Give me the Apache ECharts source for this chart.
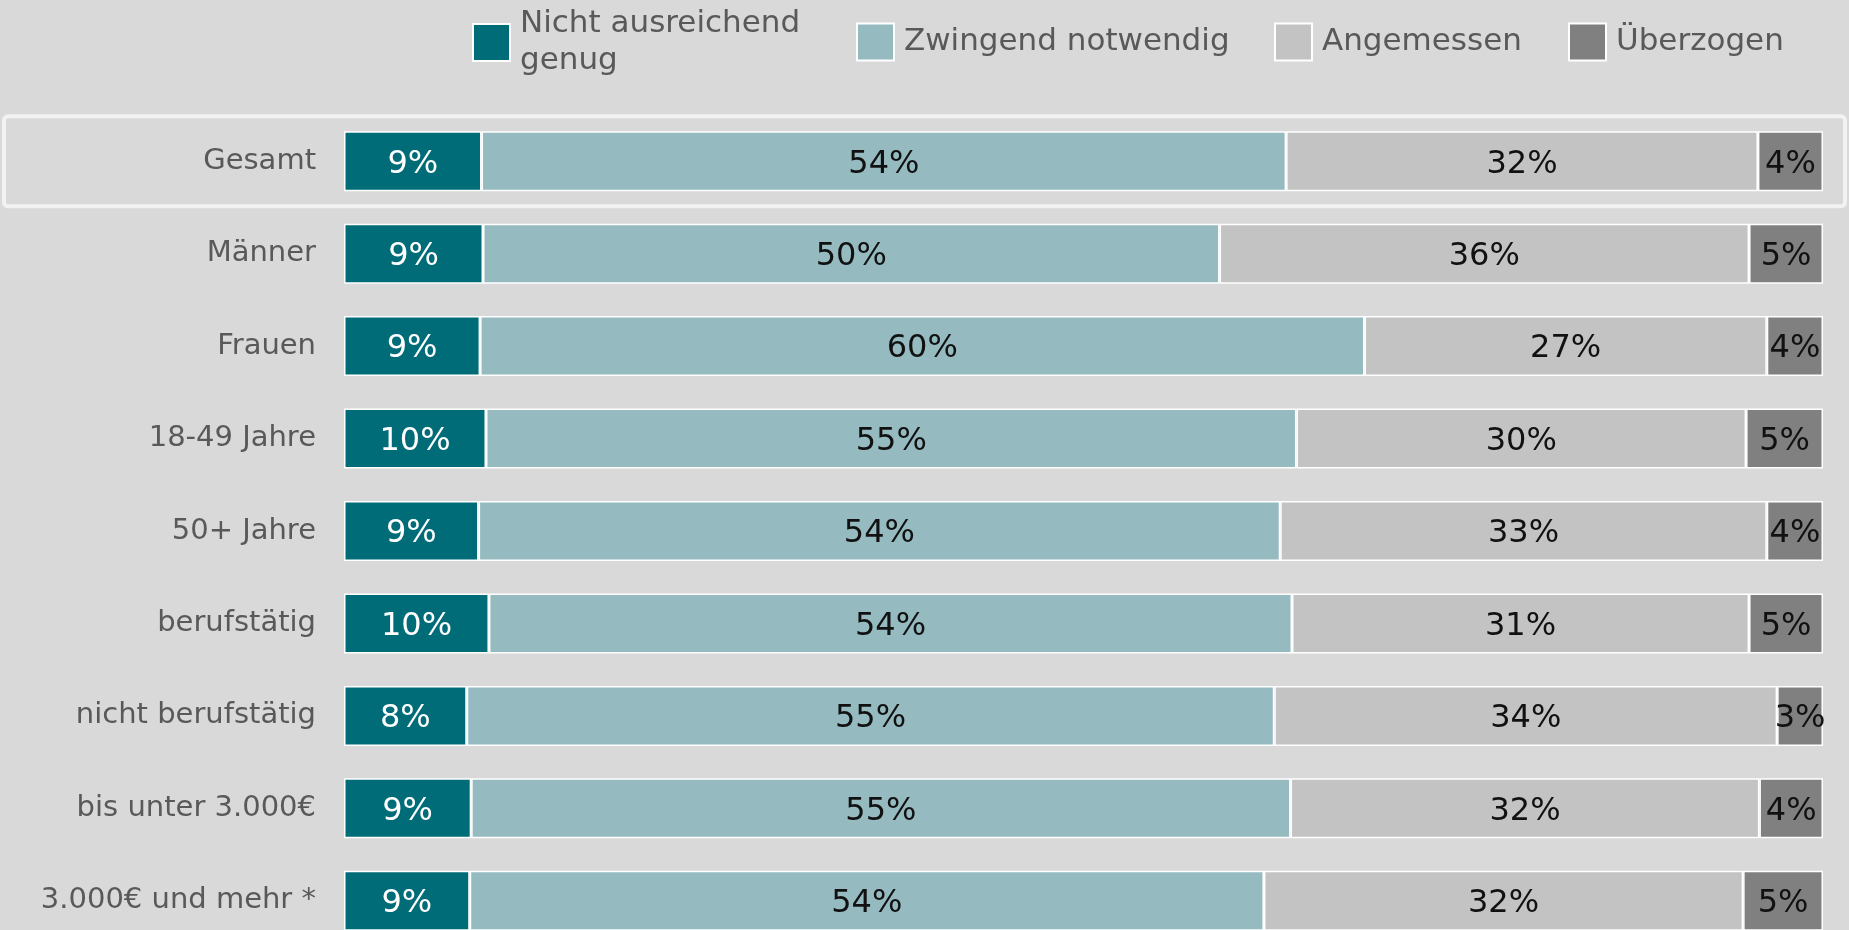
<!DOCTYPE html>
<html>
<head>
<meta charset="utf-8">
<script src="https://cdn.jsdelivr.net/npm/echarts@6/dist/echarts.min.js"></script>
<style>
  html, body { margin: 0; padding: 0; background: #d9d9d9; overflow: hidden; }
  #main { width: 1849px; height: 960px; }
</style>
</head>
<body>
<div id="main"></div>
<script>
var categories = ['Gesamt', 'Männer', 'Frauen', '18-49 Jahre', '50+ Jahre', 'berufstätig', 'nicht berufstätig', 'bis unter 3.000€', '3.000€ und mehr *'];
var seriesNames = ['Nicht ausreichend\ngenug', 'Zwingend notwendig', 'Angemessen', 'Überzogen'];
var nichtAusreichend = [9.3, 9.4, 9.2, 9.6, 9.1, 9.8, 8.3, 8.6, 8.5];
var zwingend = [54.4, 49.8, 59.8, 54.8, 54.2, 54.3, 54.6, 55.4, 53.7];
var angemessen = [31.9, 35.8, 27.2, 30.4, 32.9, 30.9, 34.0, 31.7, 32.4];
var ueberzogen = [4.4, 5.0, 3.8, 5.2, 3.8, 5.0, 3.1, 4.3, 5.4];

var colors = ['#006c78', '#95bbc1', '#c3c3c3', '#808080'];
var labelColors = ['#ffffff', '#111111', '#111111', '#111111'];
var legendLeft = [467, 851, 1269, 1563];
var legendTop = [-1, 17, 17, 17];

var myChart = echarts.init(document.getElementById('main'));

var values = [nichtAusreichend, zwingend, angemessen, ueberzogen];
var series = [];
var legends = [];
for (var i = 0; i < values.length; i++) {
	series.push({
		name: seriesNames[i],
		type: 'bar',
		stack: 'total',
		barWidth: 60,
		data: values[i],
		itemStyle: { color: colors[i], borderColor: '#ffffff', borderWidth: 1.5 },
		label: {
			show: true,
			position: 'inside',
			offset: [0, 3],
			color: labelColors[i],
			fontSize: 32,
			fontFamily: 'DejaVu Sans',
			formatter: function (p) { return Math.round(p.value) + '%'; }
		}
	});
	legends.push({
		data: [seriesNames[i]],
		left: legendLeft[i],
		top: legendTop[i],
		icon: 'rect',
		itemWidth: 37,
		itemHeight: 37,
		selectedMode: false,
		textStyle: {
			color: '#595959',
			fontSize: 31,
			lineHeight: 37,
			fontFamily: 'DejaVu Sans',
			padding: [3, 0, 0, 5]
		}
	});
}

option = {
	backgroundColor: '#d9d9d9',
	animation: false,
	legend: legends,
	grid: {
		left: 344,
		width: 1479,
		top: 115,
		height: 832
	},
	xAxis: {
		type: 'value',
		min: 0,
		max: 100,
		show: false
	},
	yAxis: {
		type: 'category',
		inverse: true,
		data: categories,
		axisLine: { show: false },
		axisTick: { show: false },
		axisLabel: {
			color: '#595959',
			fontSize: 29,
			fontFamily: 'DejaVu Sans',
			margin: 28,
			padding: [4, 0, 0, 0]
		}
	},
	series: series
};
myChart.setOption(option);

// Rahmen um die Zeile "Gesamt"
var cy = myChart.convertToPixel({ yAxisIndex: 0 }, categories[0]);
myChart.setOption({
	graphic: [{
		type: 'rect',
		shape: { x: 4, y: cy - 45, width: 1841, height: 90, r: 4 },
		style: { fill: 'none', stroke: '#f2f2f2', lineWidth: 4 },
		silent: true
	}]
});
</script>
</body>
</html>
